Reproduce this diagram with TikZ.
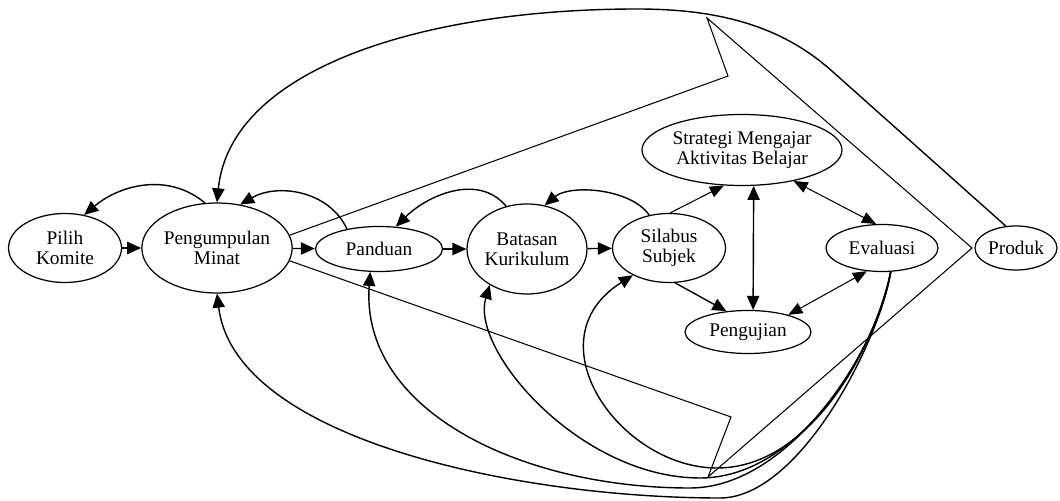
\documentclass[tikz,border=0pt]{standalone}
\usepackage{fontspec}
\setmainfont{Liberation Serif}
\usetikzlibrary{arrows.meta,shapes.geometric}

\begin{document}
\begin{tikzpicture}[x=0.02cm,y=0.02cm,font=\fontsize{11}{11.5}\selectfont,
  st/.style={ellipse,draw,line width=0.7pt,inner sep=0pt,align=center},
  sz/.style 2 args={minimum width=#1*0.02cm,minimum height=#2*0.02cm},
  e/.style={line width=0.8pt,-{Triangle[length=8pt,width=7pt]}},
  ew/.style={line width=0.8pt,{Triangle[length=8pt,width=7pt]}-{Triangle[length=8pt,width=7pt]}},
  te/.style={line width=0.6pt,-{Triangle[length=8pt,width=6.5pt]}},
  tw/.style={line width=0.6pt,{Triangle[length=8pt,width=6.5pt]}-{Triangle[length=8pt,width=6.5pt]}}]
\useasboundingbox (0,0) rectangle (1060,500);
% nodes
\node[st,sz={113}{69}] (pilih) at (65,252) {Pilih\\Komite};
\node[st,sz={133}{90}] (minat) at (217,252) {Pengumpulan\\Minat};
\node[st,sz={127}{45}] (panduan) at (379,251) {Panduan};
\node[st,sz={112}{90}] (batasan) at (527,251) {Batasan\\Kurikulum};
\node[st,sz={113}{69}] (silabus) at (669,252) {Silabus\\Subjek};
\node[st,sz={200}{71}] (strategi) at (742,350) {Strategi Mengajar\\Aktivitas Belajar};
\node[st,sz={112}{47}] (evaluasi) at (882,252) {Evaluasi};
\node[st,sz={82}{44}] (produk) at (1016,252) {Produk};
\node[st,sz={126}{43}] (pengujian) at (748,168) {Pengujian};
% main chain
\draw[e] (pilih) -- (minat);
\draw[e] (minat) -- (panduan);
\draw[e] (panduan) -- (batasan);
\draw[e] (batasan) -- (silabus);
\draw[e] (minat.105) to[out=140,in=40] (pilih.60);
\draw[e] (panduan.148) to[out=115,in=30] (minat.62);
\draw[e] (batasan.116) to[out=130,in=45] (panduan.53);
\draw[e] (silabus.121) to[out=125,in=40,looseness=0.8] (batasan.68);
% right part
\draw[te] (silabus.88) -- (strategi.243);
\draw[e] (silabus.280) -- (pengujian.136);
\draw[ew] (strategi.288) -- (pengujian.77);
\draw[tw] (strategi.329) -- (evaluasi.104);
\draw[tw] (pengujian.23) -- (evaluasi.237);
% feedback from Evaluasi
\draw[e] (evaluasi.290) .. controls (874,150) and (810,32) .. (717,32) .. controls (620,32) and (530,160) .. (silabus.217);
\draw[e] (evaluasi.290) .. controls (876,150) and (800,22) .. (700,22) .. controls (580,22) and (470,150) .. (batasan.224);
\draw[e] (evaluasi.290) .. controls (878,150) and (790,12) .. (690,12) .. controls (520,12) and (360,90) .. (panduan.249);
\draw[e] (evaluasi.290) .. controls (880,160) and (800,2) .. (720,2) .. controls (520,2) and (235,60) .. (minat.south);
% big arrow outline
\draw[line width=0.6pt] (minat.10) -- (728,424) -- (707,482) -- (972,252) -- (708,23) -- (731,83) -- (minat.350);
\draw[e] (produk.115) -- (833,428) .. controls (781,475) and (717,491) .. (637,491) .. controls (420,491) and (230,430) .. (minat.north);
\end{tikzpicture}
\end{document}
